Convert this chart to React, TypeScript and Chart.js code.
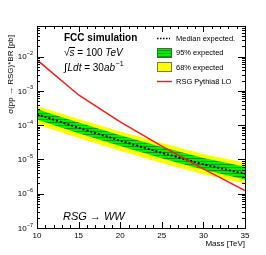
import React, { useEffect, useRef } from "react";
import { Chart, registerables } from "chart.js";

Chart.register(...registerables);

const masses = [10, 15, 20, 25, 30, 35];
const theory = [8.0e-3, 7.6e-4, 1.25e-4, 2.45e-5, 5.3e-6, 1.24e-6];
const median = [2.1e-4, 8.4e-5, 3.53e-5, 1.56e-5, 7.2e-6, 3.8e-6];
const greenUp = [2.9e-4, 1.2e-4, 5.1e-5, 2.3e-5, 1.1e-5, 6.1e-6];
const greenDown = [1.45e-4, 5.8e-5, 2.45e-5, 1.08e-5, 5.0e-6, 2.6e-6];
const yellowUp = [3.6e-4, 1.5e-4, 6.5e-5, 3.0e-5, 1.45e-5, 8.0e-6];
const yellowDown = [1.05e-4, 4.2e-5, 1.78e-5, 7.9e-6, 3.7e-6, 2.0e-6];
const xTicks = [10, 15, 20, 25, 30, 35];
const yExps = [-7, -6, -5, -4, -3, -2];

const FONT = '"Liberation Sans", Arial, sans-serif';

function pts(ys: number[]) {
  return masses.map((m, i) => ({ x: m, y: ys[i] }));
}

function makeGreenPattern(): CanvasPattern | string {
  const c = document.createElement("canvas");
  c.width = 4;
  c.height = 3;
  const g = c.getContext("2d");
  if (!g) return "#00ff00";
  g.fillStyle = "#00ee00";
  g.fillRect(0, 0, 4, 3);
  g.fillStyle = "#109a10";
  g.fillRect(0, 2, 4, 1);
  const p = g.createPattern(c, "repeat");
  return p || "#00ff00";
}

const decorPlugin = {
  id: "decor",
  afterDraw(chart: any) {
    const ctx: CanvasRenderingContext2D = chart.ctx;
    const { left, right, top, bottom } = chart.chartArea;
    const xs = chart.scales.x;
    const ys = chart.scales.y;
    ctx.save();
    ctx.strokeStyle = "#000";
    ctx.lineWidth = 1;
    ctx.strokeRect(Math.round(left) + 0.5, Math.round(top) + 0.5, Math.round(right - left), Math.round(bottom - top));
    ctx.beginPath();
    for (let v = 10; v <= 35; v++) {
      const px = Math.round(xs.getPixelForValue(v)) + 0.5;
      const len = v % 5 === 0 ? 6 : 3;
      ctx.moveTo(px, bottom);
      ctx.lineTo(px, bottom - len);
      ctx.moveTo(px, top);
      ctx.lineTo(px, top + len);
    }
    for (let e = -7; e <= -1; e++) {
      for (let k = 1; k <= 9; k++) {
        const v = k * Math.pow(10, e);
        if (v < ys.min || v > ys.max) continue;
        const py = Math.round(ys.getPixelForValue(v)) + 0.5;
        const len = k === 1 ? 7 : 3;
        ctx.moveTo(left, py);
        ctx.lineTo(left + len, py);
        ctx.moveTo(right, py);
        ctx.lineTo(right - len, py);
      }
    }
    ctx.stroke();

    ctx.fillStyle = "#000";
    ctx.font = `8px ${FONT}`;
    ctx.textAlign = "center";
    ctx.textBaseline = "middle";
    xTicks.forEach((v) => {
      ctx.fillText(String(v), xs.getPixelForValue(v), bottom + 7.5);
    });
    ctx.textAlign = "right";
    ctx.fillText("Mass [TeV]", right, bottom + 16);

    yExps.forEach((e) => {
      const py = ys.getPixelForValue(Math.pow(10, e));
      ctx.font = `5.5px ${FONT}`;
      ctx.textAlign = "right";
      const sup = String(e).replace("-", "\u2212");
      const sw = ctx.measureText(sup).width;
      ctx.fillText(sup, left - 4, py - 3);
      ctx.font = `8px ${FONT}`;
      ctx.fillText("10", left - 4 - sw, py + 0.5);
    });

    ctx.save();
    ctx.translate(11, top + 9);
    ctx.rotate(-Math.PI / 2);
    ctx.font = `8px ${FONT}`;
    ctx.textAlign = "right";
    ctx.textBaseline = "middle";
    ctx.fillText("\u03c3(pp \u2192 RSG)*BR [pb]", 0, 0);
    ctx.restore();

    ctx.textAlign = "left";
    ctx.textBaseline = "middle";
    ctx.font = `bold 10px ${FONT}`;
    ctx.fillText("FCC simulation", 64, 38);

    let x = 64;
    let y = 53;
    ctx.font = `10px ${FONT}`;
    ctx.fillText("\u221a", x, y);
    const rw = ctx.measureText("\u221a").width;
    x += rw;
    ctx.font = `italic 10px ${FONT}`;
    ctx.fillText("s", x, y + 0.5);
    const sw2 = ctx.measureText("s").width;
    ctx.beginPath();
    ctx.moveTo(x - 0.5, y - 5.5);
    ctx.lineTo(x + sw2 + 0.5, y - 5.5);
    ctx.stroke();
    x += sw2;
    ctx.font = `10px ${FONT}`;
    ctx.fillText(" = 100 ", x, y);
    x += ctx.measureText(" = 100 ").width;
    ctx.font = `italic 10px ${FONT}`;
    ctx.fillText("TeV", x, y);

    x = 64;
    y = 68;
    ctx.font = `11px ${FONT}`;
    ctx.fillText("\u222b", x, y);
    x += ctx.measureText("\u222b").width + 0.5;
    ctx.font = `italic 10px ${FONT}`;
    ctx.fillText("Ldt", x, y);
    x += ctx.measureText("Ldt").width;
    ctx.font = `10px ${FONT}`;
    ctx.fillText(" = 30", x, y);
    x += ctx.measureText(" = 30").width;
    ctx.font = `italic 10px ${FONT}`;
    ctx.fillText("ab", x, y);
    x += ctx.measureText("ab").width + 0.5;
    ctx.font = `7px ${FONT}`;
    ctx.fillText("\u22121", x, y - 4);

    ctx.font = `italic 11px ${FONT}`;
    ctx.fillText("RSG \u2192 WW", 63, 217);

    ctx.font = `7.5px ${FONT}`;
    const lx = 157;
    const tx = 176;
    ctx.save();
    ctx.setLineDash([1.5, 1.5]);
    ctx.lineWidth = 1.5;
    ctx.beginPath();
    ctx.moveTo(lx, 38.5);
    ctx.lineTo(lx + 13, 38.5);
    ctx.stroke();
    ctx.restore();
    ctx.fillText("Median expected.", tx, 38.5);
    ctx.fillStyle = makeGreenPattern() as any;
    ctx.fillRect(lx, 48, 15, 10);
    ctx.strokeStyle = "#2a7a2a";
    ctx.strokeRect(lx + 0.5, 48.5, 14, 9);
    ctx.fillStyle = "#000";
    ctx.fillText("95% expected", tx, 53);
    ctx.fillStyle = "#ffff00";
    ctx.fillRect(lx, 62, 15, 10);
    ctx.strokeStyle = "#7a7a30";
    ctx.strokeRect(lx + 0.5, 62.5, 14, 9);
    ctx.fillStyle = "#000";
    ctx.fillText("68% expected", tx, 67.5);
    ctx.strokeStyle = "#ff2020";
    ctx.lineWidth = 1.5;
    ctx.beginPath();
    ctx.moveTo(lx, 81.5);
    ctx.lineTo(lx + 15, 81.5);
    ctx.stroke();
    ctx.fillText("RSG Pythia8 LO", tx, 81.5);

    ctx.restore();
  },
};

export default function App() {
  const ref = useRef<HTMLCanvasElement | null>(null);
  useEffect(() => {
    if (!ref.current) return;
    const green = makeGreenPattern();
    const chart = new Chart(ref.current, {
      type: "line",
      data: {
        datasets: [
          {
            label: "RSG Pythia8 LO",
            data: pts(theory),
            borderColor: "#ff1a1a",
            borderWidth: 1.5,
            pointRadius: 0,
            fill: false,
            tension: 0,
          },
          {
            label: "Median expected.",
            data: pts(median),
            borderColor: "#000",
            borderWidth: 2,
            borderDash: [2, 2],
            pointRadius: 0,
            fill: false,
          },
          {
            label: "95% up",
            data: pts(greenUp),
            borderWidth: 0,
            borderColor: "rgba(0,0,0,0)",
            backgroundColor: green as any,
            pointRadius: 0,
            fill: "+1",
          },
          {
            label: "95% down",
            data: pts(greenDown),
            borderWidth: 0,
            borderColor: "rgba(0,0,0,0)",
            pointRadius: 0,
            fill: false,
          },
          {
            label: "68% up",
            data: pts(yellowUp),
            borderWidth: 0,
            borderColor: "rgba(0,0,0,0)",
            backgroundColor: "#ffff00",
            pointRadius: 0,
            fill: "+1",
          },
          {
            label: "68% down",
            data: pts(yellowDown),
            borderWidth: 0,
            borderColor: "rgba(0,0,0,0)",
            pointRadius: 0,
            fill: false,
          },
        ],
      },
      options: {
        animation: false,
        responsive: false,
        maintainAspectRatio: false,
        layout: { padding: { left: 37, right: 21, top: 26, bottom: 27 } },
        plugins: { legend: { display: false }, tooltip: { enabled: false } },
        scales: {
          x: { type: "linear", min: 10, max: 35, display: false },
          y: { type: "logarithmic", min: 1e-7, max: 0.078, display: false },
        },
      },
      plugins: [decorPlugin],
    });
    return () => chart.destroy();
  }, []);
  return (
    <div style={{ position: "fixed", left: 0, top: 0, width: 266, height: 255, background: "#fff" }}>
      <canvas ref={ref} width={266} height={255} style={{ width: 266, height: 255, display: "block" }} />
    </div>
  );
}
